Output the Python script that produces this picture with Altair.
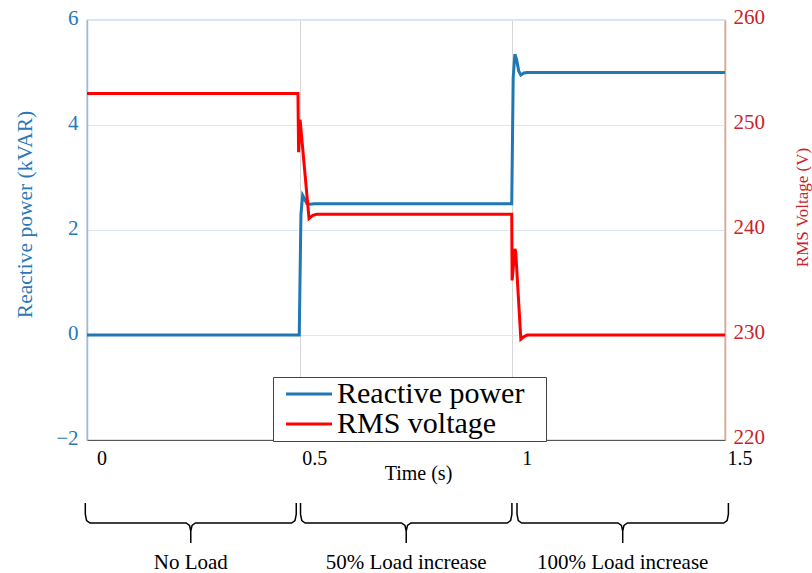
import altair as alt
import pandas as pd

# ---------------- data ----------------
# Reactive power (kVAR) vs time (s)
q_time = [0.0, 0.499, 0.503, 0.507, 0.511, 0.517, 0.524, 0.535,
          0.9986, 1.002, 1.006, 1.010, 1.015, 1.020, 1.027, 1.035, 1.5]
q_value = [0.0, 0.0, 2.3, 2.66, 2.6, 2.5, 2.49, 2.5,
           2.5, 4.9, 5.35, 5.25, 5.03, 4.95, 4.99, 5.0, 5.0]

# RMS voltage (V) vs time (s)
v_time = [0.0, 0.496, 0.4975, 0.501, 0.522, 0.531, 0.54,
          0.9986, 0.9995, 1.006, 1.008, 1.020, 1.026, 1.035, 1.5]
v_value = [253.0, 253.0, 247.4, 250.5, 241.1, 241.4, 241.5,
           241.5, 235.2, 238.2, 237.9, 229.6, 229.8, 230.0, 230.0]

series_names = ["Reactive power", "RMS voltage"]
series_colors = ["#1f77b4", "#ff0000"]

# Load stages shown with braces under the time axis
stage_labels = ["No Load", "50% Load increase", "100% Load increase"]
stage_start = [-0.004, 0.502, 1.011]
stage_end = [0.492, 0.999, 1.508]

x_ticks = [0, 0.5, 1, 1.5]
x_tick_labels = ["0", "0.5", "1", "1.5"]
q_ticks = [-2, 0, 2, 4, 6]
v_ticks = [220, 230, 240, 250, 260]

# ---------------- tables ----------------
q_df = pd.DataFrame({"t": q_time, "v": q_value, "series": series_names[0],
                     "i": range(len(q_time))})
v_df = pd.DataFrame({"t": v_time, "v": v_value, "series": series_names[1],
                     "i": range(len(v_time))})

# curly-brace outline (offsets in seconds from ends/middle, height 0..1)
rows = []
for b, (a, e) in enumerate(zip(stage_start, stage_end)):
    m = (a + e) / 2
    pts = [(a, 1.0), (a, 0.72), (a + 0.003, 0.56), (a + 0.011, 0.5),
           (m - 0.011, 0.5), (m - 0.003, 0.44), (m, 0.3), (m, 0.0),
           (m, 0.3), (m + 0.003, 0.44), (m + 0.011, 0.5),
           (e - 0.011, 0.5), (e - 0.003, 0.56), (e, 0.72), (e, 1.0)]
    for k, (t, h) in enumerate(pts):
        rows.append({"t": t, "h": h, "brace": b, "k": k})
brace_df = pd.DataFrame(rows)
label_df = pd.DataFrame({"t": [(a + e) / 2 for a, e in zip(stage_start, stage_end)],
                         "label": stage_labels})
xtick_df = pd.DataFrame({"t": x_ticks, "label": x_tick_labels})

blue_c = "#2a78b6"
red_c = "#cc2229"
serif = "Liberation Serif"

# long legend stroke on a small symbol (so rows stay tight)
legend_symbol = "M-2.5,0M-1,0H10.5M62,0"

color_enc = alt.Color(
    "series:N",
    scale=alt.Scale(domain=series_names, range=series_colors),
    legend=alt.Legend(
        title=None, orient="none", legendX=186, legendY=357,
        direction="vertical", symbolType=legend_symbol, symbolSize=64,
        symbolStrokeWidth=3, labelFont=serif, labelFontSize=30,
        labelColor="black", labelLimit=500, labelOffset=32,
        strokeColor="#444", fillColor="white", padding=2, rowPadding=0,
        cornerRadius=0,
    ),
)

x_enc = alt.X(
    "t:Q",
    scale=alt.Scale(domain=[0, 1.5], nice=False, zero=False),
    axis=alt.Axis(
        values=x_ticks, title="Time (s)", grid=True, gridColor="#d6d6d6",
        ticks=False, labels=False, domainColor="#555",
        titleFont=serif, titleFontSize=20, titleFontWeight="normal",
        titleColor="black", titleX=331, titleY=33, titleBaseline="middle",
        titleAlign="center",
    ),
)

blue = alt.Chart(q_df).mark_line(strokeWidth=3).encode(
    x=x_enc,
    y=alt.Y(
        "v:Q",
        scale=alt.Scale(domain=[-2, 6], nice=False, zero=False),
        axis=alt.Axis(
            orient="left", values=q_ticks, title="Reactive power (kVAR)",
            grid=True, gridColor="#dbe8f4", ticks=False, labelFont=serif,
            labelFontSize=21, labelColor=blue_c, labelPadding=9,
            labelOffset=-2,
            domainColor="#8fc0e8", domainWidth=1.5, titleFont=serif,
            titleFontSize=21.5, titleFontWeight="normal", titleColor=blue_c,
            titleX=-62, titleY=194, titleAngle=270, titleBaseline="middle",
            titleAlign="center",
        ),
    ),
    color=color_enc,
    order="i:Q",
)

red = alt.Chart(v_df).mark_line(strokeWidth=3).encode(
    x=alt.X("t:Q"),
    y=alt.Y(
        "v:Q",
        scale=alt.Scale(domain=[220, 260], nice=False, zero=False),
        axis=alt.Axis(
            orient="right", values=v_ticks, title="RMS Voltage (V)",
            grid=False, ticks=False, labelFont=serif, labelFontSize=21,
            labelColor=red_c, labelPadding=8, labelOffset=-3,
            domainColor="#f0a07c",
            domainWidth=1.5, titleFont=serif, titleFontSize=17,
            titleFontWeight="normal", titleColor=red_c, titleX=77,
            titleY=187, titleAngle=270, titleBaseline="middle",
            titleAlign="center",
        ),
    ),
    color=color_enc,
    order="i:Q",
)

xtick_text = alt.Chart(xtick_df).mark_text(
    font=serif, fontSize=20, color="black", baseline="middle", align="center", dx=15
).encode(
    x=alt.X("t:Q"),
    y=alt.value(439),
    text="label:N",
)

braces = alt.Chart(brace_df).mark_line(strokeWidth=1.5, color="black").encode(
    x=alt.X("t:Q"),
    y=alt.Y("h:Q", scale=alt.Scale(domain=[0, 1], range=[523, 483], nice=False, zero=False),
            axis=None),
    detail="brace:N",
    order="k:Q",
)

labels = alt.Chart(label_df).mark_text(
    font=serif, fontSize=21, color="black", baseline="middle", align="center"
).encode(
    x=alt.X("t:Q"),
    y=alt.value(543),
    text="label:N",
)

chart = alt.layer(blue, red, braces, labels, xtick_text).resolve_scale(
    y="independent"
).properties(
    width=638, height=420,
    autosize=alt.AutoSizeParams(type="none"),
    padding={"left": 87, "top": 20, "right": 87, "bottom": 133},
    background="white",
).configure_view(stroke="#888", strokeWidth=1.2)

chart.save("out.html", embed_options={"renderer": "svg", "actions": False})
